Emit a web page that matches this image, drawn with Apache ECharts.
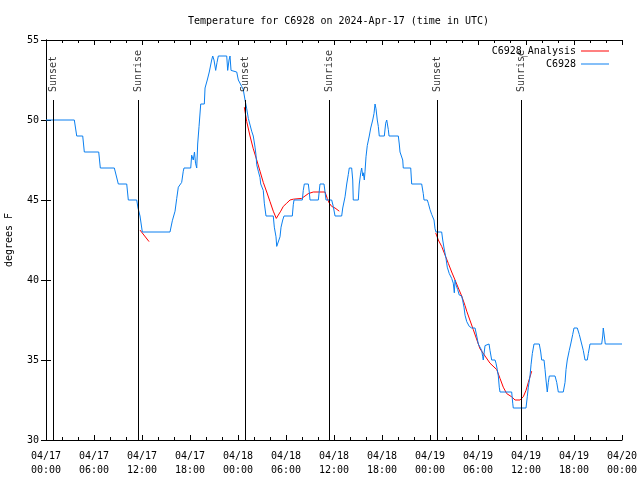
<!DOCTYPE html>
<html><head><meta charset="utf-8">
<script src="https://cdn.jsdelivr.net/npm/echarts@6/dist/echarts.min.js"></script>
<style>html,body{margin:0;padding:0;background:#fff}#c{width:640px;height:480px}</style>
</head><body><div id="c"></div>
<script>
const titleText = 'Temperature for C6928 on 2024-Apr-17 (time in UTC)';
const yAxisName = 'degrees F';
const xTickLabels = ['04/17\n00:00','04/17\n06:00','04/17\n12:00','04/17\n18:00','04/18\n00:00','04/18\n06:00','04/18\n12:00','04/18\n18:00','04/19\n00:00','04/19\n06:00','04/19\n12:00','04/19\n18:00','04/20\n00:00'];

// hours since 04/17 00:00 UTC
const obsHours = [0,3.54,3.84,4.59,4.79,6.59,6.79,8.54,9.04,10.09,10.29,11.34,11.5,11.75,12.04,15.5,15.79,16.13,16.34,16.54,16.96,17.16,17.25,18.09,18.21,18.41,18.56,18.69,18.84,18.96,19.13,19.34,19.79,19.88,20.09,20.16,20.41,20.71,20.84,21.0,21.21,21.38,21.54,22.59,22.71,22.88,23.0,23.13,23.34,23.84,24.04,24.46,24.66,24.88,25.09,25.29,25.5,25.71,25.91,26.13,26.25,26.34,26.54,26.75,26.84,27.04,27.16,27.29,27.5,28.41,28.54,28.75,28.84,29.04,29.25,29.38,29.59,29.75,30.79,30.91,31.0,32.04,32.16,32.29,32.79,32.91,33.0,34.04,34.25,34.75,34.88,35.0,35.71,35.91,36.13,36.96,37.09,37.38,37.59,37.79,37.91,38.21,38.34,38.41,39.04,39.16,39.34,39.46,39.59,39.66,39.79,39.88,40.0,40.16,40.41,40.59,40.84,41.0,41.13,41.25,41.41,41.54,41.66,42.29,42.46,42.59,42.79,42.88,44.04,44.16,44.25,44.46,44.59,44.66,45.59,45.71,46.96,47.16,47.25,47.66,47.79,48.0,48.21,48.41,48.5,48.63,48.75,49.46,49.59,49.75,50.0,50.16,50.41,50.71,50.91,51.04,51.13,51.25,51.46,51.66,51.75,51.96,52.09,52.25,52.38,52.59,52.91,53.21,53.63,53.84,54.04,54.46,54.59,54.66,54.88,54.96,55.38,55.5,55.71,56.13,56.25,56.41,56.54,56.66,56.75,58.21,58.34,58.41,60.0,60.16,60.29,60.5,60.63,60.79,61.0,61.66,61.84,61.96,62.25,62.38,62.5,62.66,62.79,62.91,63.63,63.84,64.04,64.66,64.88,65.0,65.16,65.41,65.59,65.84,66.0,66.41,66.66,66.96,67.16,67.38,67.66,67.79,68.0,69.46,69.59,69.66,69.79,69.91,72];
const obsTemps = [50,50,49,49,48,48,47,47,46,46,45,45,44.5,44,43,43,43.7,44.3,45.1,45.8,46.1,46.8,47,47,47.8,47.5,48,47.3,47,48.5,49.6,51,51,52,52,52.5,53,53.75,54,53.75,53.1,53.6,54,54,53.1,53.75,54,53.1,53.1,53,52.5,52.1,51.9,51.25,50.7,50.1,50,49.3,49,48.3,47.8,47.2,46.8,46.4,46,46,45.6,44.8,44,44,43.3,42.7,42.1,42,42.7,43.3,43.75,44,44,44.7,45,45,45.6,46,46,45.5,45,45,46,46,45.5,45,45,44.6,44,44,44.5,45.2,46,46.6,47,47,46.25,45,45,46,46.7,47,46.5,46.7,46.25,46.8,47.7,48.4,49,49.5,50,50.4,51,50.7,50,49.6,49,49,49.8,50,49.4,49,49,48.5,48,48,47.5,47,47,46,46,45.4,45,45,44.8,44.4,44.1,44,43.75,43.2,43,43,42.5,42,41.35,40.8,40.4,40.1,39.8,39.2,40,39.7,39.4,39.06,39,39,38.7,38.3,37.8,37.4,37.1,37,37,36.5,36,35.6,35.2,35,35.9,36,36,35.6,35,35,34.8,34.4,34,33.3,33,33,32.3,32,32,32.7,33.3,34,34.7,35.4,36,36,35.5,35,35,34.4,33.75,33,33.6,34,34,33.6,33,33,33.6,34.4,35,35.6,36,36.6,37,37,36.6,36,35.6,35,35,35.4,36,36,36.5,37,36.5,36,36];

// analysis curve; null temperature marks a gap between nightly fits
const anaHours = [11.75,12.88,18,24.79,25.09,25.5,25.91,26.34,26.75,27.16,27.59,28.0,28.41,28.79,29.04,29.34,29.66,30.09,30.5,30.91,31.96,32.38,32.79,33.41,34.88,35.16,35.41,35.71,36.13,36.66,42,48.71,49.04,49.46,49.88,50.29,50.71,51.13,51.54,51.96,52.38,52.59,53.41,54.25,54.88,55.5,56.34,56.75,57.16,57.59,58.21,58.63,59.25,59.66,60.0,60.29,60.71];
const anaTemps = [43.12,42.4,null,50.8,49.9,49,48.2,47.5,46.8,46.1,45.5,44.9,44.3,43.85,44.06,44.3,44.6,44.8,45,45.05,45.1,45.25,45.4,45.5,45.5,45.1,44.8,44.6,44.5,44.3,null,42.95,42.5,42.1,41.56,41.04,40.5,40,39.5,39,38.4,38.05,36.9,35.7,35.25,34.8,34.4,33.85,33.3,32.9,32.7,32.5,32.5,32.7,33.1,33.6,34.3];

const sunHours = [0.92,11.58,24.92,35.42,48.92,59.42];
const sunNames = ['Sunset','Sunrise','Sunset','Sunrise','Sunset','Sunrise'];
const sunTop = 51.25;

const FONT = 'DejaVu Sans Mono';
const chart = echarts.init(document.getElementById('c'), null, {renderer:'canvas'});

const axisCommon = {
  axisLine:{show:true, lineStyle:{color:'#000', width:1}},
  axisTick:{show:true, inside:true, length:5, lineStyle:{color:'#000'}},
  splitLine:{show:false}
};
const xBase = Object.assign({}, axisCommon, {type:'value', min:0, max:72, interval:6,
  minorTick:{show:true, splitNumber:3, length:3, lineStyle:{color:'#000'}}});
const yBase = Object.assign({}, axisCommon, {type:'value', min:30, max:55, interval:5});

chart.setOption({
  animation:false,
  backgroundColor:'#fff',
  textStyle:{fontFamily:FONT},
  title:{text:titleText, left:183, top:11, textStyle:{fontFamily:FONT, fontSize:10, fontWeight:'normal', color:'#000'}},
  grid:{left:46, right:18, top:40, bottom:40, containLabel:false, outerBoundsMode:'none'},
  legend:{
    data:['C6928_Analysis','C6928'], orient:'vertical', align:'right', icon:'rect',
    right:26, top:40, itemWidth:28, itemHeight:1, itemGap:1,
    textStyle:{fontFamily:FONT, fontSize:10, color:'#000', lineHeight:12}
  },
  xAxis:[
    Object.assign({}, xBase, {position:'bottom',
      axisLabel:{show:true, margin:9, fontFamily:FONT, fontSize:10, color:'#000', lineHeight:14,
        formatter:(v)=>xTickLabels[Math.round(v/6)]}}),
    Object.assign({}, xBase, {position:'top', axisLabel:{show:false}})
  ],
  yAxis:[
    Object.assign({}, yBase, {position:'left', name:yAxisName, nameLocation:'middle', nameGap:32, nameRotate:90,
      nameTextStyle:{fontFamily:FONT, fontSize:10, color:'#000'},
      axisLabel:{show:true, margin:7, fontFamily:FONT, fontSize:10, color:'#000'}}),
    Object.assign({}, yBase, {position:'right', axisLabel:{show:false}})
  ],
  series:[
    {name:'C6928_Analysis', type:'line', xAxisIndex:0, yAxisIndex:0, symbol:'none', showSymbol:false,
     connectNulls:false, color:'#ff0000', lineStyle:{color:'#ff0000', width:1},
     data:anaHours.map((h,i)=>[h, anaTemps[i]===null ? '-' : anaTemps[i]])},
    {name:'C6928', type:'line', xAxisIndex:0, yAxisIndex:0, symbol:'none', showSymbol:false,
     color:'#0a7ff0', lineStyle:{color:'#0a7ff0', width:1},
     data:obsHours.map((h,i)=>[h, obsTemps[i]])},
    {name:'sun', type:'scatter', xAxisIndex:0, yAxisIndex:0, symbolSize:0, silent:true, z:5,
     data:sunHours.map((h)=>[h, sunTop]),
     label:{show:true, position:'top', distance:8, rotate:90, align:'left', verticalAlign:'middle',
       fontFamily:FONT, fontSize:10, color:'#000', formatter:(p)=>sunNames[p.dataIndex]},
     markLine:{silent:true, symbol:['none','none'], label:{show:false},
       lineStyle:{color:'#000', width:1, type:'solid'},
       data:sunHours.map((h)=>[{coord:[h, sunTop]},{coord:[h, 30]}])}}
  ]
});
</script></body></html>
